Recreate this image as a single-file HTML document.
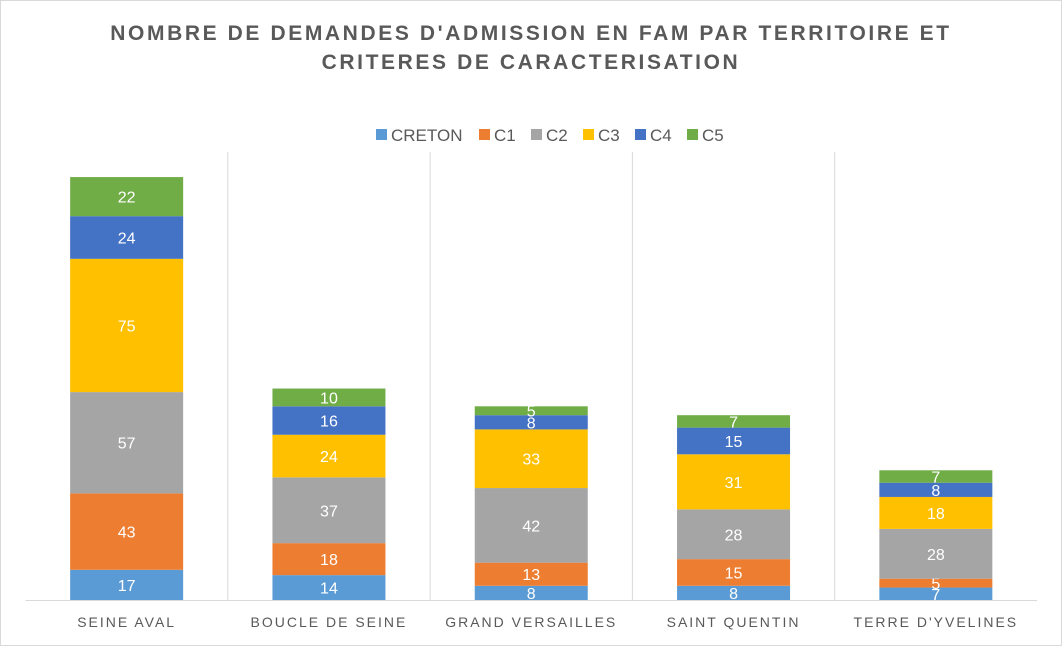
<!DOCTYPE html>
<html><head><meta charset="utf-8"><style>
body{margin:0;background:#fff;}
#wrap{width:1062px;height:646px;position:relative;overflow:hidden;font-family:"Liberation Sans",sans-serif;}
</style></head><body>
<div id="wrap">
<svg id="chart" width="1062" height="646">
<rect x="0.5" y="0.5" width="1061" height="645" fill="#fff" stroke="#d9d9d9"/>
<text x="531" y="40" text-anchor="middle" font-size="21" font-weight="bold" fill="#595959" letter-spacing="2.6">NOMBRE DE DEMANDES D'ADMISSION EN FAM PAR TERRITOIRE ET</text>
<text x="531" y="69" text-anchor="middle" font-size="21" font-weight="bold" fill="#595959" letter-spacing="2.6">CRITERES DE CARACTERISATION</text>
<g id="legend"></g>
<g id="grid"></g>
<g id="bars"></g>
<g id="xlabels"></g>
</svg>
</div>
<script>
const categories=["SEINE AVAL","BOUCLE DE SEINE","GRAND VERSAILLES","SAINT QUENTIN","TERRE D'YVELINES"];
const seriesNames=["CRETON","C1","C2","C3","C4","C5"];
const creton=[17,14,8,8,7];
const c1=[43,18,13,15,5];
const c2=[57,37,42,28,28];
const c3=[75,24,33,31,18];
const c4=[24,16,8,15,8];
const c5=[22,10,5,7,7];
const series=[creton,c1,c2,c3,c4,c5];
const colors=["#5B9BD5","#ED7D31","#A5A5A5","#FFC000","#4472C4","#70AD47"];
const NS="http://www.w3.org/2000/svg";
const plotL=25.5,plotR=1037,base=600,pxPerUnit=1.777;
const band=(plotR-plotL)/categories.length,barW=113;
function xc(i){return plotL+band*(i+0.5);}
function y(v){return base-v*pxPerUnit;}
function mk(t,a,p){const e=document.createElementNS(NS,t);for(const k in a)e.setAttribute(k,a[k]);p.appendChild(e);return e;}
const grid=document.getElementById('grid');
for(let i=1;i<categories.length;i++){
  const l=mk('line',{x1:plotL+band*i,x2:plotL+band*i,y1:152,y2:base,stroke:'#d9d9d9','stroke-width':1},grid);
  
  
}
const ax=mk('line',{x1:plotL,x2:plotR,y1:base+0.5,y2:base+0.5,stroke:'#d9d9d9'},grid);


const bars=document.getElementById('bars');
categories.forEach((c,i)=>{
  let cum=0;
  series.forEach((s,k)=>{
    const v=s[i];const y0=y(cum),y1=y(cum+v);
    const r=mk('rect',{x:xc(i)-barW/2,y:y1,width:barW,height:y0-y1,fill:colors[k]},bars);
    
    
    const t=mk('text',{x:xc(i),y:(y0+y1)/2+6,'text-anchor':'middle','font-size':16,fill:'#fff'},bars);
    t.textContent=v;
    
    
    cum+=v;
  });
  const lb=mk('text',{x:xc(i),y:627,'text-anchor':'middle','font-size':14,fill:'#595959','letter-spacing':'2'},document.getElementById('xlabels'));
  lb.textContent=c;
  
  
});
const lg=document.getElementById('legend');
const lx=[376,479,531,583,635,687];
seriesNames.forEach((n,k)=>{
  const g=mk('g',{},lg);
  
  
  mk('rect',{x:lx[k],y:129,width:11,height:11,fill:colors[k]},g);
  const t=mk('text',{x:lx[k]+15,y:141,'font-size':17,fill:'#595959'},g);
  t.textContent=n;
});
</script>
</body></html>
